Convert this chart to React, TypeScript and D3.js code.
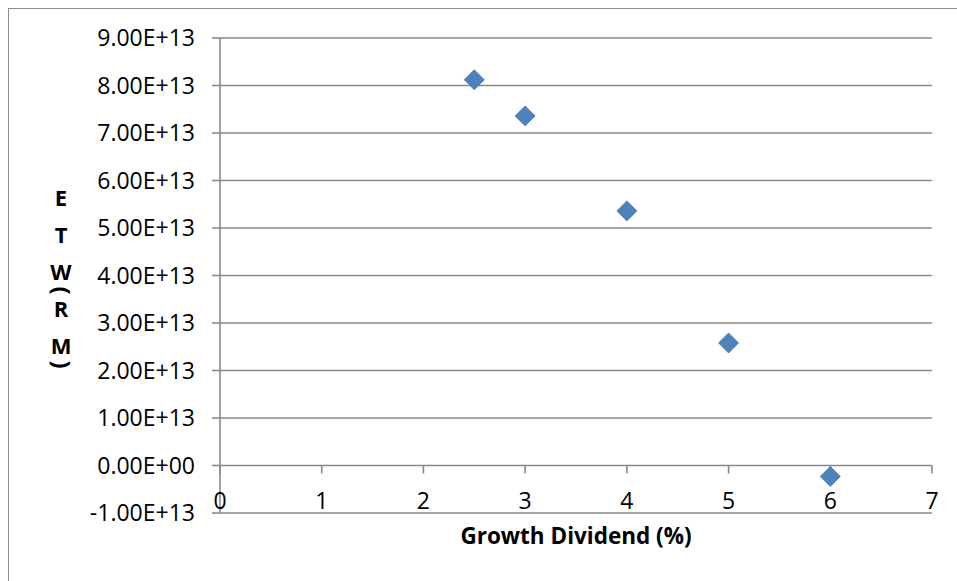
import React from "react";
import * as d3 from "d3";

// Expected total wealth against growth dividend
const dividendPct: number[] = [2.5, 3, 4, 5, 6];
const etwRM: number[] = [8.12e13, 7.36e13, 5.36e13, 2.58e13, -0.23e13];

const yTickValues: number[] = [-1e13, 0, 1e13, 2e13, 3e13, 4e13, 5e13, 6e13, 7e13, 8e13, 9e13];
const xTickValues: number[] = [0, 1, 2, 3, 4, 5, 6, 7];

const xTitle = "Growth Dividend (%)";
const yTitleChars: string[] = ["E", "T", "W", "(", "R", "M", ")"];

const W = 957;
const H = 581;
const plot = { left: 220, right: 932, top: 38, bottom: 513 };

const FONT = "'Open Sans', 'Liberation Sans', sans-serif";
const GRID = "#8a8a8a";
const MARK = "#4F81BD";

// Excel-style scientific notation: 9.00E+13, 0.00E+00
function sci(v: number): string {
  if (v === 0) return "0.00E+00";
  const exp = Math.floor(Math.log10(Math.abs(v)));
  const mant = v / Math.pow(10, exp);
  const e = Math.abs(exp).toString().padStart(2, "0");
  return `${mant.toFixed(2)}E${exp < 0 ? "-" : "+"}${e}`;
}

export default function App() {
  const x = d3.scaleLinear().domain([0, 7]).range([plot.left, plot.right]);
  const y = d3.scaleLinear().domain([-1e13, 9e13]).range([plot.bottom, plot.top]);
  const diamond = d3.symbol().type(d3.symbolSquare).size(200)();

  const y0 = y(0);

  // vertical stacking of the y title; parentheses take half a line
  let cursor = 198;
  const yTitle = yTitleChars.map((c, i) => {
    const paren = c === "(" || c === ")";
    if (i > 0) {
      const prevParen = yTitleChars[i - 1] === "(" || yTitleChars[i - 1] === ")";
      cursor += paren || prevParen ? 18.5 : 37;
    }
    return { c, cy: cursor, paren };
  });

  return (
    <svg
      width={W}
      height={H}
      style={{ position: "absolute", left: 0, top: 0, background: "#fff" }}
      fontFamily={FONT}
    >
      <rect x={8.5} y={8.5} width={W + 10} height={H + 10} fill="#fff" stroke="#8c8c8c" strokeWidth={1} />

      {/* horizontal gridlines */}
      {yTickValues.map((t) => (
        <line
          key={"g" + t}
          x1={plot.left}
          x2={plot.right}
          y1={y(t)}
          y2={y(t)}
          stroke={GRID}
          strokeWidth={1.6}
        />
      ))}

      {/* y axis */}
      <line x1={x(0)} x2={x(0)} y1={plot.top} y2={plot.bottom} stroke={GRID} strokeWidth={1.6} />
      {yTickValues.map((t) => (
        <g key={"yt" + t}>
          <line x1={x(0) - 8} x2={x(0)} y1={y(t)} y2={y(t)} stroke={GRID} strokeWidth={1.6} />
          <text
            x={195}
            y={y(t)}
            dy="0.35em"
            textAnchor="end"
            fontSize={23}
            fill="#000"
          >
            {sci(t)}
          </text>
        </g>
      ))}

      {/* x axis ticks along the zero line */}
      {xTickValues.map((t) => (
        <g key={"xt" + t}>
          <line x1={x(t)} x2={x(t)} y1={y0} y2={y0 + 8} stroke={GRID} strokeWidth={1.6} />
          <text x={x(t)} y={501} dy="0.35em" textAnchor="middle" fontSize={23} fill="#000">
            {t}
          </text>
        </g>
      ))}

      {/* data points */}
      {dividendPct.map((d, i) => (
        <path
          key={"p" + i}
          d={diamond as string}
          transform={`translate(${x(d)},${y(etwRM[i])}) rotate(45)`}
          fill={MARK}
          stroke="#4a7ab3"
          strokeWidth={0.8}
        />
      ))}

      {/* axis titles */}
      <text
        x={(plot.left + plot.right) / 2}
        y={544}
        textAnchor="middle"
        fontSize={22.5}
        fontWeight="bold"
        fill="#000"
      >
        {xTitle}
      </text>
      {yTitle.map(({ c, cy, paren }, i) => (
        <text
          key={"yl" + i}
          x={61}
          y={cy}
          dy="0.35em"
          textAnchor="middle"
          fontSize={paren ? 24 : 22}
          fontWeight="bold"
          fill="#000"
          transform={paren ? `rotate(90, 61, ${cy})` : undefined}
        >
          {c}
        </text>
      ))}
    </svg>
  );
}
